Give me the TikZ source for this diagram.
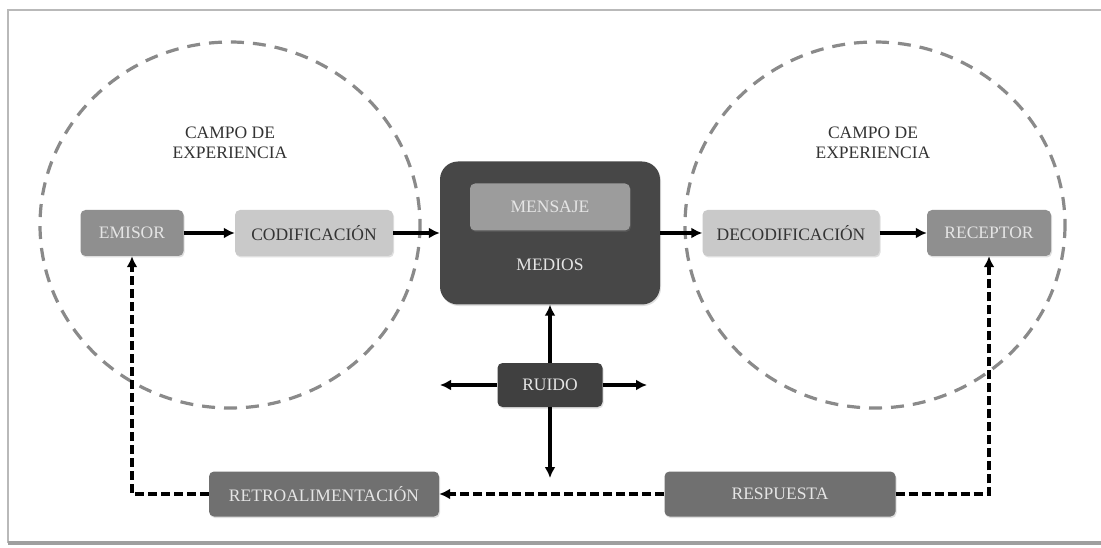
\documentclass[tikz,border=0pt]{standalone}
\usepackage{fontspec}
\setmainfont{Liberation Serif}
\usetikzlibrary{arrows,arrows.meta,shadows}

\definecolor{grisclaro}{gray}{0.79}
\definecolor{grismedio}{gray}{0.56}
\definecolor{grisretro}{gray}{0.44}
\definecolor{grismensaje}{gray}{0.61}
\definecolor{grismedios}{gray}{0.28}
\definecolor{grisruido}{gray}{0.25}
\definecolor{griscampo}{gray}{0.54}
\definecolor{textoclaro}{gray}{0.90}
\definecolor{textoosc}{gray}{0.20}

\begin{document}
\begin{tikzpicture}[x=1pt,y=-1pt,
    caja/.style={rounded corners=5pt,inner sep=0pt,minimum height=46pt,
      font=\fontsize{17.5}{20}\selectfont,
      drop shadow={opacity=.25,shadow xshift=1pt,shadow yshift=-1.5pt}},
    clara/.style={caja,fill=grisclaro,text=textoosc},
    media/.style={caja,fill=grismedio,text=textoclaro},
    flecha/.style={line width=3.2pt,-{Latex[length=11pt,width=11pt]}},
    retroflecha/.style={line width=3.6pt,dash pattern=on 9pt off 4pt,
      -{Latex[length=11pt,width=11pt]}},
    campo/.style={griscampo,line width=3.2pt,dash pattern=on 13pt off 9pt}]
  \clip (0,0) rectangle (1101,548);
  \fill[white] (0,0) rectangle (1101,548);
  \draw[gray!55,line width=2pt] (1120,10) -- (8,10) -- (8,543);
  \draw[gray!75,line width=3.5pt] (8,543) -- (1120,543);

  %campos de experiencia
  \draw[campo] (230,225) ellipse [x radius=190, y radius=183];
  \draw[campo] (875,225) ellipse [x radius=190, y radius=183];
  \node[align=center,text=textoosc,font=\fontsize{17.5}{20}\selectfont]
    (campoizq) at (230,143) {CAMPO DE\\EXPERIENCIA};
  \node[align=center,text=textoosc,font=\fontsize{17.5}{20}\selectfont]
    (campoder) at (873,143) {CAMPO DE\\EXPERIENCIA};

  \node[media,minimum width=103pt] (emisor) at (132,233) {EMISOR};
  \node[clara,minimum width=158pt] (codif) at (314,233) {CODIFICACIÓN};
  \node[rounded corners=18pt,fill=grismedios,minimum width=220pt,
    minimum height=143pt,
    drop shadow={opacity=.25,shadow xshift=1pt,shadow yshift=-1.5pt}]
    (medios) at (550,233) {};
  \node[caja,fill=grismensaje,text=textoclaro,minimum width=160pt,
    minimum height=47pt] (mensaje) at (550,207) {MENSAJE};
  \node[text=textoclaro,font=\fontsize{17.5}{20}\selectfont]
    (mediostxt) at (550,265) {MEDIOS};
  \node[clara,minimum width=177pt] (decod) at (791,233) {DECODIFICACIÓN};
  \node[media,minimum width=124pt] (receptor) at (989,233) {RECEPTOR};
  \node[caja,fill=grisruido,text=textoclaro,minimum width=105pt,
    minimum height=44pt] (ruido) at (550,385) {RUIDO};
  \node[caja,fill=grisretro,text=textoclaro,minimum width=230pt,
    minimum height=45pt] (retro) at (324,494) {RETROALIMENTACIÓN};
  \node[caja,fill=grisretro,text=textoclaro,minimum width=231pt,
    minimum height=45pt] (resp) at (780,494) {RESPUESTA};

  \coordinate (ruidoizq) at (440,385);
  \coordinate (ruidoder) at (647,385);
  \coordinate (ruidoabajo) at (550,478);

  \path[flecha]
    (emisor) edge (codif)
    (codif) edge (medios)
    (medios) edge (decod)
    (decod) edge (receptor)
    (ruido) edge (medios)
    (ruido) edge (ruidoizq)
    (ruido) edge (ruidoder)
    (ruido) edge (ruidoabajo);
  \draw[retroflecha] (resp) -- (retro);
  \draw[retroflecha] (resp.east) -| (receptor.south);
  \draw[retroflecha] (retro.west) -| (emisor.south);
\end{tikzpicture}
\end{document}
